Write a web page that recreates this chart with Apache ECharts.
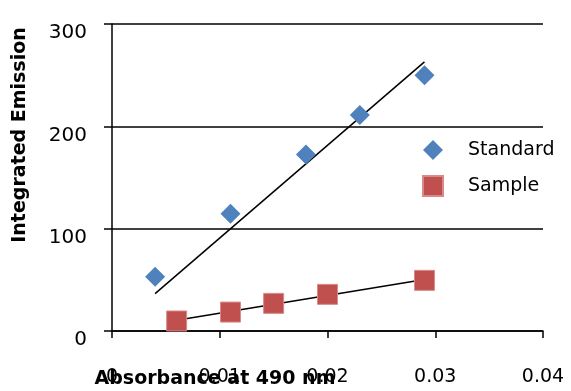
<!DOCTYPE html>
<html>
<head>
<meta charset="utf-8">
<script src="https://cdn.jsdelivr.net/npm/echarts@6/dist/echarts.min.js"></script>
<style>
html,body{margin:0;padding:0;background:#fff;}
#chart{width:571px;height:391px;}
</style>
</head>
<body>
<div id="chart"></div>
<script>
// Data
const standardX = [0.004, 0.011, 0.018, 0.023, 0.029];
const standardY = [53, 114.5, 172.5, 211, 250];
const sampleX = [0.006, 0.011, 0.015, 0.020, 0.029];
const sampleY = [9.8, 18.5, 27, 35.8, 49.5];
// Trend line end points (linear fit through origin, as drawn)
const standardTrendX = [0.004, 0.029];
const standardTrendY = [36.5, 263];
const sampleTrendX = [0.006, 0.029];
const sampleTrendY = [10.4, 50.4];
const xTicks = [0, 0.01, 0.02, 0.03, 0.04];
const yTicks = [0, 100, 200, 300];
const seriesNames = ['Standard', 'Sample'];
const xTitle = 'Absorbance at 490 nm';
const yTitle = 'Integrated Emission';

const zip = (xs, ys) => xs.map((x, i) => [x, ys[i]]);
const FONT = 'DejaVu Sans';

const chart = echarts.init(document.getElementById('chart'), null, {renderer: 'canvas'});
chart.setOption({
  animation: false,
  backgroundColor: '#fff',
  textStyle: {fontFamily: FONT},
  grid: {left: 112, right: 28, top: 24, bottom: 60, containLabel: false},
  xAxis: {
    type: 'value',
    min: xTicks[0], max: xTicks[xTicks.length - 1], interval: 0.01,
    axisLine: {show: true, onZero: false, lineStyle: {color: '#000', width: 1.5}},
    axisTick: {show: true, inside: false, length: 7, lineStyle: {color: '#000', width: 1.5}},
    splitLine: {show: false},
    axisLabel: {
      margin: 37, color: '#000', fontSize: 19, fontFamily: FONT,
      formatter: v => (v === 0 ? '0' : String(+v.toFixed(2)))
    }
  },
  yAxis: {
    type: 'value',
    min: yTicks[0], max: yTicks[yTicks.length - 1], interval: 100,
    axisLine: {show: true, lineStyle: {color: '#000', width: 1.5}},
    axisTick: {show: true, inside: false, length: 8, lineStyle: {color: '#000', width: 1.5}},
    splitLine: {show: true, lineStyle: {color: '#000', width: 1.5}},
    axisLabel: {
      margin: 25, color: '#000', fontSize: 20, fontFamily: FONT,
      formatter: v => '{n|' + v + '}',
      rich: {n: {fontSize: 20, fontFamily: FONT, color: '#000', padding: [18, 0, 0, 0]}}
    }
  },
  legend: {
    orient: 'vertical',
    left: 417, top: 135,
    itemWidth: 20, itemHeight: 20, itemGap: 15,
    data: seriesNames,
    textStyle: {fontSize: 19, color: '#000', fontFamily: FONT, padding: [0, 0, 0, 20]}
  },
  series: [
    {
      name: 'StandardTrend', type: 'line', data: zip(standardTrendX, standardTrendY),
      showSymbol: false, symbol: 'none', silent: true, z: 1,
      lineStyle: {color: '#000', width: 1.5}
    },
    {
      name: 'SampleTrend', type: 'line', data: zip(sampleTrendX, sampleTrendY),
      showSymbol: false, symbol: 'none', silent: true, z: 1,
      lineStyle: {color: '#000', width: 1.5}
    },
    {
      name: seriesNames[0], type: 'scatter', data: zip(standardX, standardY),
      symbol: 'diamond', symbolSize: 20, z: 3,
      itemStyle: {color: '#4F81BD', opacity: 1}
    },
    {
      name: seriesNames[1], type: 'scatter', data: zip(sampleX, sampleY),
      symbol: 'rect', symbolSize: 20, z: 3,
      itemStyle: {color: '#C0504D', borderColor: '#D9898A', borderWidth: 1, opacity: 1}
    }
  ],
  graphic: [
    {
      type: 'text', x: 215, y: 379, z: 10,
      style: {text: xTitle, font: 'bold 19px "' + FONT + '"', fill: '#000', align: 'center', verticalAlign: 'middle'}
    },
    {
      type: 'text', x: 20, y: 135, rotation: Math.PI / 2, z: 10,
      style: {text: yTitle, font: 'bold 19px "' + FONT + '"', fill: '#000', align: 'center', verticalAlign: 'middle'}
    }
  ]
});
</script>
</body>
</html>
